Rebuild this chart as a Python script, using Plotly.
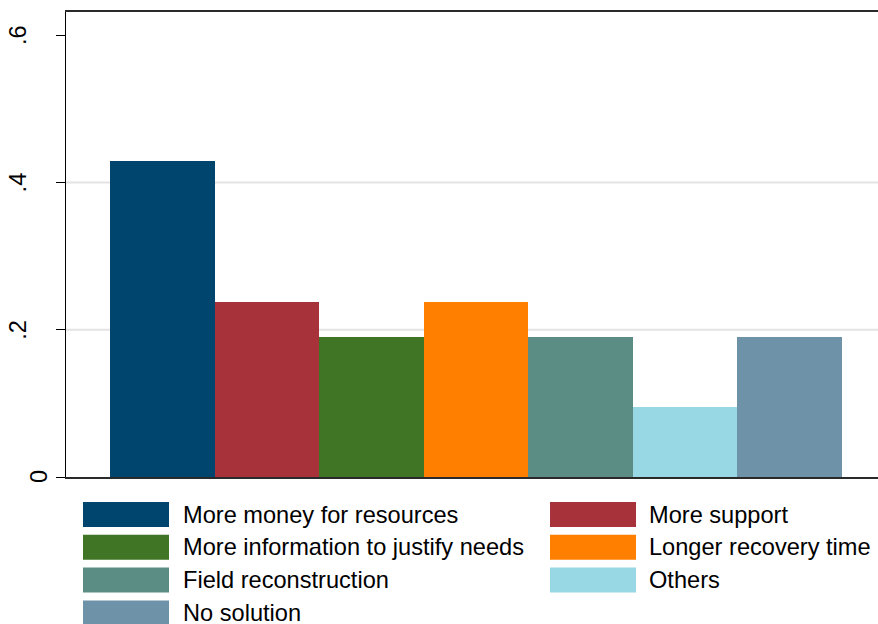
import plotly.graph_objects as go

# ---------------- data ----------------
categories = [
    "More money for resources",
    "More support",
    "More information to justify needs",
    "Longer recovery time",
    "Field reconstruction",
    "Others",
    "No solution",
]
values = [0.4286, 0.2381, 0.1905, 0.2381, 0.1905, 0.0952, 0.1905]
colors = ["#00456e", "#a8323a", "#407526", "#ff7f00", "#5b8d85", "#98d8e4", "#6e92a8"]
tick_values = [0, 0.2, 0.4, 0.6]
tick_labels = ["0", ".2", ".4", ".6"]
grid_values = [0.2, 0.4]

# ---------------- layout geometry ----------------
W, H = 878, 624
L, R, T, B = 66, 0, 12, 147
PW, PH = W - L - R, H - T - B
FONT = "Arial, Liberation Sans, sans-serif"
FS = 23.6


def px_x(px):
    return (px - L) / PW


def px_y(py):
    return (H - B - py) / PH


fig = go.Figure(
    go.Bar(
        x=list(range(len(categories))),
        y=values,
        width=1,
        marker=dict(color=colors, line=dict(width=0)),
        showlegend=False,
        hovertext=categories,
        hoverinfo="text+y",
    )
)

shapes = []
annotations = []

# gridlines
for g in grid_values:
    shapes.append(dict(type="line", xref="paper", x0=0, x1=1, yref="y", y0=g, y1=g,
                       line=dict(color="#e3e3e3", width=2), layer="below"))

# y tick labels (vertical, Stata style)
for v, lab in zip(tick_values, tick_labels):
    annotations.append(dict(
        x=0, xref="paper", y=v, yref="y", text=lab, showarrow=False,
        textangle=-90, xanchor="right", yanchor="middle",
        xshift=(-12 if lab == "0" else -33),
        font=dict(family=FONT, size=FS, color="#000000"),
    ))

# legend (2 columns, row-major)
sw_x0 = [83, 550]
txt_x0 = [181, 647]
sw_w, sw_h = 86, 25
row0, row_step = 514.5, 32.8
for i, (cat, col) in enumerate(zip(categories, colors)):
    r, c = divmod(i, 2)
    yc = row0 + r * row_step
    shapes.append(dict(type="rect", xref="paper", yref="paper",
                       x0=px_x(sw_x0[c]), x1=px_x(sw_x0[c] + sw_w),
                       y0=px_y(yc + sw_h / 2), y1=px_y(yc - sw_h / 2),
                       fillcolor=col, line=dict(width=0)))
    annotations.append(dict(
        x=px_x(txt_x0[c]), xref="paper", y=px_y(yc), yref="paper",
        text=cat, showarrow=False, xanchor="left", yanchor="middle",
        font=dict(family=FONT, size=FS, color="#000000"),
    ))

fig.update_layout(
    width=W, height=H,
    margin=dict(l=L, r=R, t=T, b=B, pad=0),
    paper_bgcolor="white", plot_bgcolor="white",
    font=dict(family=FONT, size=FS, color="#000000"),
    bargap=0,
    shapes=shapes,
    annotations=annotations,
    xaxis=dict(range=[-0.921, 6.844], showticklabels=False, ticks="", showgrid=False,
               zeroline=False, showline=True, mirror=True, linecolor="#2a2a2a", linewidth=1.5,
               fixedrange=True),
    yaxis=dict(range=[0, 0.6314], tickvals=tick_values, ticks="outside", ticklen=9,
               tickcolor="#000000", tickwidth=1, showticklabels=False, showgrid=False,
               zeroline=False, showline=True, linecolor="#000000", linewidth=1,
               fixedrange=True),
)

fig.write_html(
    "out.html",
    config={"displayModeBar": False},
    post_script="document.body.style.margin='0';document.body.style.overflow='hidden';",
)
